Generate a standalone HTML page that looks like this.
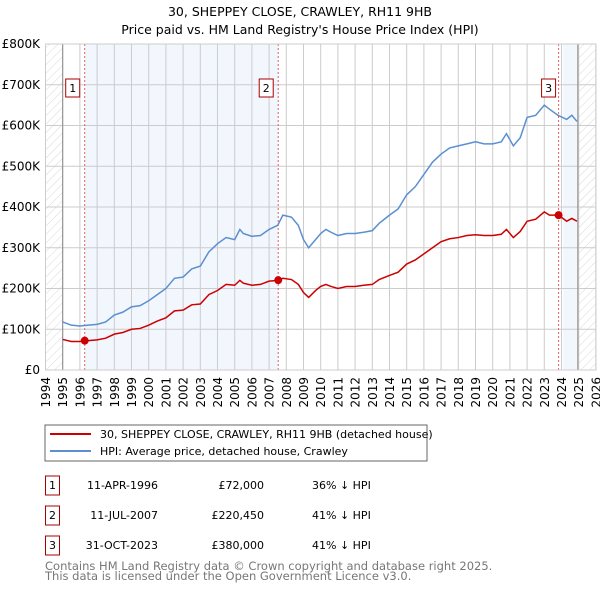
<!DOCTYPE html>
<html><head><meta charset="utf-8"><style>
body{margin:0;background:#fff;font-family:"DejaVu Sans","Liberation Sans",sans-serif;}
svg text{font-family:"DejaVu Sans","Liberation Sans",sans-serif;}
</style></head><body>
<svg id="c" width="600" height="590" xmlns="http://www.w3.org/2000/svg">
<defs><pattern id="hatch" width="6" height="6" patternUnits="userSpaceOnUse" patternTransform="rotate(45)"><line x1="0" y1="0" x2="0" y2="6" stroke="#d8d8d8" stroke-width="1"/></pattern></defs>
<text x="300" y="16" text-anchor="middle" font-size="12.5">30, SHEPPEY CLOSE, CRAWLEY, RH11 9HB</text>
<text x="300" y="34" text-anchor="middle" font-size="12.5">Price paid vs. HM Land Registry's House Price Index (HPI)</text>
<g id="plot"></g>
<rect x="45" y="425" width="382" height="36" fill="#fff" stroke="#666"/>
<line x1="50" y1="434" x2="91" y2="434" stroke="#cc0000" stroke-width="2"/>
<text x="100" y="438" font-size="11">30, SHEPPEY CLOSE, CRAWLEY, RH11 9HB (detached house)</text>
<line x1="50" y1="451" x2="91" y2="451" stroke="#5b8fd0" stroke-width="2"/>
<text x="100" y="455" font-size="11">HPI: Average price, detached house, Crawley</text>
<g id="table" font-size="11"></g>
<text x="45" y="570" font-size="11.5" fill="#777">Contains HM Land Registry data © Crown copyright and database right 2025.</text>
<text x="45" y="580" font-size="11.5" fill="#777">This data is licensed under the Open Government Licence v3.0.</text>
</svg>
<script>
const yearTicks=[1994,1995,1996,1997,1998,1999,2000,2001,2002,2003,2004,2005,2006,2007,2008,2009,2010,2011,2012,2013,2014,2015,2016,2017,2018,2019,2020,2021,2022,2023,2024,2025,2026];
const valueTicks=[0,100,200,300,400,500,600,700,800];
const valueTickLabels=["£0","£100K","£200K","£300K","£400K","£500K","£600K","£700K","£800K"];
const hpiYears=[1995,1995.5,1996,1996.5,1997,1997.5,1998,1998.5,1999,1999.5,2000,2000.5,2001,2001.5,2002,2002.5,2003,2003.5,2004,2004.5,2005,2005.3,2005.5,2006,2006.5,2007,2007.5,2007.8,2008.3,2008.7,2009,2009.3,2009.7,2010,2010.3,2010.6,2011,2011.5,2012,2012.5,2013,2013.4,2014,2014.5,2015,2015.5,2016,2016.5,2017,2017.5,2018,2018.5,2019,2019.5,2020,2020.5,2020.8,2021.2,2021.6,2022,2022.5,2023,2023.3,2023.8,2024.3,2024.6,2024.9];
const hpiValues=[118,110,108,110,112,118,135,142,155,158,170,185,200,225,228,248,255,290,310,325,320,345,335,328,330,345,355,380,375,355,320,300,320,335,345,338,330,335,335,338,342,360,380,395,430,450,480,510,530,545,550,555,560,555,555,560,580,550,570,620,625,650,640,625,615,625,610];
const priceYears=[1995,1995.5,1996,1996.28,1996.5,1997,1997.5,1998,1998.5,1999,1999.5,2000,2000.5,2001,2001.5,2002,2002.5,2003,2003.5,2004,2004.5,2005,2005.3,2005.5,2006,2006.5,2007,2007.53,2007.8,2008.3,2008.7,2009,2009.3,2009.7,2010,2010.3,2010.6,2011,2011.5,2012,2012.5,2013,2013.4,2014,2014.5,2015,2015.5,2016,2016.5,2017,2017.5,2018,2018.5,2019,2019.5,2020,2020.5,2020.8,2021.2,2021.6,2022,2022.5,2023,2023.3,2023.83,2024.3,2024.6,2024.9];
const priceValues=[75,70,70,72,72,74,78,88,92,100,102,110,120,128,145,147,160,162,185,195,210,208,220,213,208,210,218,220,225,222,210,190,178,195,205,210,205,200,205,205,208,210,222,232,240,260,270,285,300,315,322,325,330,332,330,330,333,345,325,340,365,370,388,380,380,365,372,365];
const saleYears=[1996.28,2007.53,2023.83];
const saleValues=[72,220.45,380];
const saleLabels=["1","2","3"];
const saleDates=["11-APR-1996","11-JUL-2007","31-OCT-2023"];
const salePrices=["£72,000","£220,450","£380,000"];
const saleDiffs=["36% ↓ HPI","41% ↓ HPI","41% ↓ HPI"];

const NS="http://www.w3.org/2000/svg";
const X0=45.5,PX=17.2,Y0=370,PY=0.4075;
const xs=y=>X0+(y-1994)*PX;
const ys=v=>Y0-v*PY;
function mk(tag,attrs,parent){const e=document.createElementNS(NS,tag);for(const k in attrs)e.setAttribute(k,attrs[k]);parent.appendChild(e);return e;}
const g=document.getElementById('plot');
let e;
e=mk('rect',{x:xs(saleYears[0]),y:ys(800),width:xs(saleYears[1])-xs(saleYears[0]),height:800*PY,fill:'#f2f6fd'},g);


e=mk('rect',{x:xs(2024.1),y:ys(800),width:xs(2024.95)-xs(2024.1),height:800*PY,fill:'#f2f6fd'},g);


e=mk('rect',{x:xs(1994),y:ys(800),width:PX,height:800*PY,fill:'url(#hatch)'},g);


e=mk('rect',{x:xs(2025),y:ys(800),width:PX,height:800*PY,fill:'url(#hatch)'},g);


valueTicks.forEach((v,i)=>{
  e=mk('line',{x1:xs(1994),x2:xs(2026),y1:ys(v),y2:ys(v),stroke:'#ccc','stroke-width':1},g);
  
  
  e=mk('text',{x:40,y:ys(v)+4,'text-anchor':'end','font-size':12},g);
  e.textContent=valueTickLabels[i];
  
  
});
yearTicks.forEach(y=>{
  e=mk('line',{x1:xs(y),x2:xs(y),y1:ys(800),y2:ys(0),stroke:'#ccc','stroke-width':1},g);
  
  
  e=mk('text',{x:0,y:0,'text-anchor':'end','font-size':12,transform:`translate(${xs(y)+4.5},${ys(0)+7}) rotate(-90)`},g);
  e.textContent=y;
  
  
});
e=mk('line',{x1:xs(1995),x2:xs(1995),y1:ys(800),y2:ys(0),stroke:'#888'},g);


e=mk('line',{x1:xs(2024.95),x2:xs(2024.95),y1:ys(800),y2:ys(0),stroke:'#888'},g);


saleYears.forEach((y,i)=>{
  e=mk('line',{x1:xs(y),x2:xs(y),y1:ys(800),y2:ys(0),stroke:'#e06060','stroke-dasharray':'2,2','stroke-width':1},g);
  
  
});
e=mk('polyline',{points:hpiYears.map((y,i)=>xs(y)+','+ys(hpiValues[i])).join(' '),fill:'none',stroke:'#5b8fd0','stroke-width':1.5},g);


e=mk('polyline',{points:priceYears.map((y,i)=>xs(y)+','+ys(priceValues[i])).join(' '),fill:'none',stroke:'#cc0000','stroke-width':1.5},g);


saleYears.forEach((y,i)=>{
  e=mk('circle',{cx:xs(y),cy:ys(saleValues[i]),r:4,fill:'#cc0000'},g);
  
  
  const bx=xs(y)-(i==2?10:12)-7;
  e=mk('rect',{x:bx,y:79,width:14,height:18,fill:'#fff',stroke:'#aa0000'},g);
  
  
  e=mk('text',{x:bx+7,y:92,'text-anchor':'middle','font-size':11},g);
  e.textContent=saleLabels[i];
  
  
});
e=mk('rect',{x:xs(1994),y:ys(800),width:32*PX,height:800*PY,fill:'none',stroke:'#ccc'},g);


const t=document.getElementById('table');
saleLabels.forEach((l,i)=>{
  const yy=476+i*30;
  e=mk('rect',{x:45.5,y:yy,width:14,height:19,fill:'#fff',stroke:'#aa0000'},t);
  
  
  e=mk('text',{x:52.5,y:yy+13,'text-anchor':'middle'},t);
  e.textContent=l;
  
  
  e=mk('text',{x:158,y:yy+13,'text-anchor':'end'},t);
  e.textContent=saleDates[i];
  
  
  e=mk('text',{x:264,y:yy+13,'text-anchor':'end'},t);
  e.textContent=salePrices[i];
  
  
  e=mk('text',{x:312,y:yy+13},t);
  e.textContent=saleDiffs[i];
  
  
});
</script>
</body></html>
